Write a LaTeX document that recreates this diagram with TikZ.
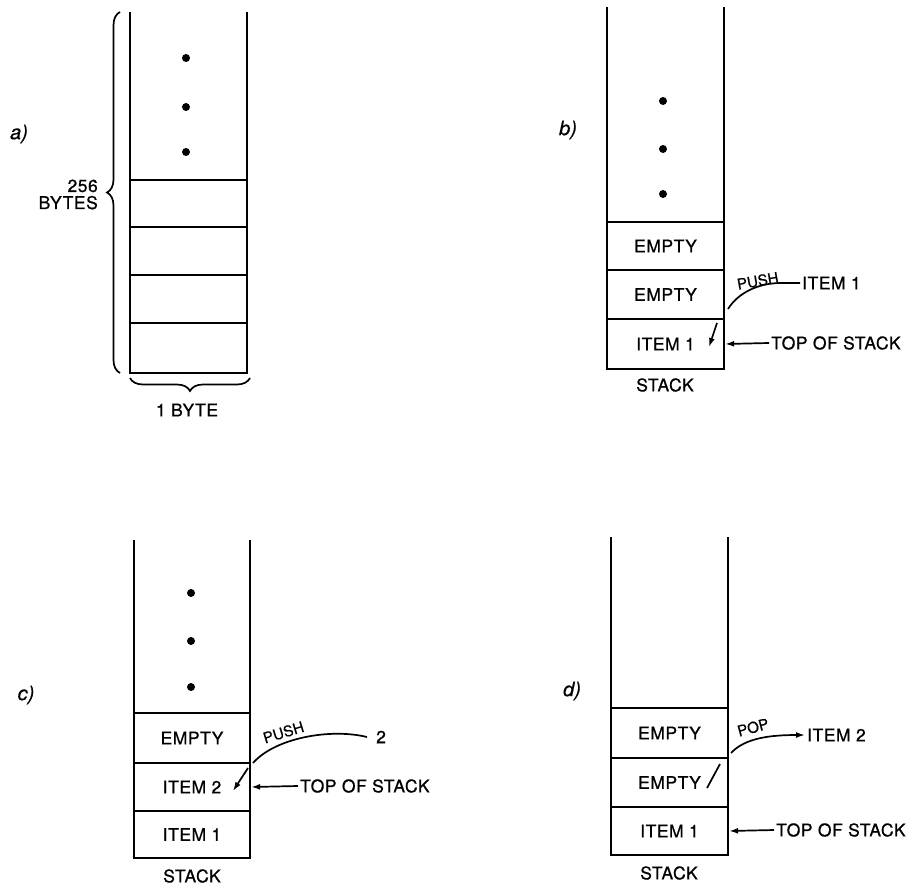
\documentclass[tikz,border=0pt]{standalone}
\usepackage{fontspec}
\setmainfont[LetterSpace=3,FakeBold=0.8]{TeX Gyre Heros}
\newfontfamily\opfont[FakeBold=0.6]{TeX Gyre Heros}
\usetikzlibrary{arrows.meta,decorations.pathreplacing}
\begin{document}
\begin{tikzpicture}[x=1pt,y=-1pt,
  font=\fontsize{17.5}{19}\selectfont,
  wall/.style={line width=2.6pt, line join=miter},
  cell/.style={draw, line width=2.3pt, minimum width=117pt, inner sep=0pt},
  dot/.style={circle, fill, inner sep=0pt, minimum size=8pt},
  lbl/.style={inner sep=2pt},
  oplbl/.style={inner sep=1pt, font=\opfont\fontsize{15}{17}\selectfont},
  tip/.style={-{Latex[length=9pt,width=6pt]}, line width=1.7pt},
  thinline/.style={line width=1.7pt},
  bracestyle/.style={decorate, line width=1.7pt},
  tag/.style={font=\opfont\fontsize{20}{22}\selectfont\itshape}
]
\path[use as bounding box] (0,0) rectangle (907,885);

% ---------------- panel a ----------------
\node[tag] (taga) at (19,134) {a)};
\draw[wall] (130,12) -- (130,373) -- (247,373) -- (247,12);
\node[cell, minimum height=47pt] (a1) at (188.5,203.5) {};
\node[cell, minimum height=48pt] (a2) at (188.5,251) {};
\node[cell, minimum height=48pt] (a3) at (188.5,299) {};
\node[cell, minimum height=50pt] (a4) at (188.5,348) {};
\node[dot] (ad1) at (186,58) {};
\node[dot] (ad2) at (186,107) {};
\node[dot] (ad3) at (186,152) {};
\draw[bracestyle, decoration={brace, amplitude=13pt}] (120,373) -- (120,12);
\node[lbl, anchor=base east] (n256) at (100,192) {256};
\node[lbl, anchor=base east] (bytes) at (100,209) {BYTES};
\draw[bracestyle, decoration={brace, amplitude=13pt}] (250,378) -- (130,378);
\node[lbl] (onebyte) at (187,410) {1 BYTE};

% ---------------- panel b ----------------
\node[tag] (tagb) at (568,130) {b)};
\draw[wall] (607,7) -- (607,369) -- (724,369) -- (724,7);
\node[cell, minimum height=48pt] (b1) at (665.5,246) {EMPTY};
\node[cell, minimum height=49pt] (b2) at (665.5,294.5) {EMPTY};
\node[cell, minimum height=50pt] (b3) at (665.5,344) {ITEM 1};
\node[dot] (bd1) at (663,101) {};
\node[dot] (bd2) at (663,149) {};
\node[dot] (bd3) at (663,194) {};
\node[lbl] (stackb) at (665,385) {STACK};
\node[oplbl, anchor=base west, rotate=10] (pushb) at (737,290) {PUSH};
\node[lbl, anchor=west] (itemb) at (800,283) {ITEM 1};
\coordinate (pb) at (728,309);
\draw[thinline] (itemb.west) -- (781,283) .. controls (758,283) and (738,293) .. (pb);
\coordinate (ab1) at (717,323);
\coordinate (ab2) at (709,347);
\draw[tip] (ab1) -- (ab2);
\node[lbl, anchor=west] (tosb) at (769,343) {TOP OF STACK};
\draw[tip] (tosb.west) -- (b3.east);

% ---------------- panel c ----------------
\node[tag] (tagc) at (26,695) {c)};
\draw[wall] (134,540) -- (134,858) -- (250,858) -- (250,540);
\node[cell, minimum width=116pt, minimum height=50pt] (c1) at (192,738) {EMPTY};
\node[cell, minimum width=116pt, minimum height=48pt] (c2) at (192,787) {ITEM 2};
\node[cell, minimum width=116pt, minimum height=47pt] (c3) at (192,834.5) {ITEM 1};
\node[dot] (cd1) at (191,593) {};
\node[dot] (cd2) at (191,641) {};
\node[dot] (cd3) at (191,687) {};
\node[inner sep=0pt] (stackc) at (192,876) {STACK};
\node[oplbl, anchor=base west, rotate=17] (pushc) at (264,744) {PUSH};
\node[anchor=west, inner ysep=2pt, inner xsep=9pt] (two) at (367,737) {2};
\coordinate (pc) at (253,763);
\draw[thinline] (two.west) .. controls (330,728) and (275,738) .. (pc);
\coordinate (ac1) at (248,768);
\coordinate (ac2) at (233,791);
\draw[tip] (ac1) -- (ac2);
\node[lbl, anchor=west] (tosc) at (298,786) {TOP OF STACK};
\draw[tip] (tosc.west) -- (c2.east);

% ---------------- panel d ----------------
\node[tag] (tagd) at (572,691) {d)};
\draw[wall] (611,537) -- (611,855) -- (728,855) -- (728,537);
\node[cell, minimum height=50pt] (d1) at (669.5,733) {EMPTY};
\node[cell, minimum height=49pt] (d2) at (669.5,782.5) {EMPTY};
\node[cell, minimum height=48pt] (d3) at (669.5,831) {ITEM 1};
\node[inner sep=0pt] (stackd) at (669,873) {STACK};
\node[oplbl, anchor=base west, rotate=15] (popd) at (738,737) {POP};
\node[lbl, anchor=west] (itemd) at (805,735) {ITEM 2};
\coordinate (pd) at (731,753);
\draw[tip] (pd) .. controls (745,738) and (770,735) .. (itemd.west);
\coordinate (sd1) at (720,764);
\coordinate (sd2) at (707,788);
\draw[thinline] (sd1) -- (sd2);
\node[lbl, anchor=west] (tosd) at (774,830) {TOP OF STACK};
\draw[tip] (tosd.west) -- (d3.east);
\end{tikzpicture}
\end{document}
